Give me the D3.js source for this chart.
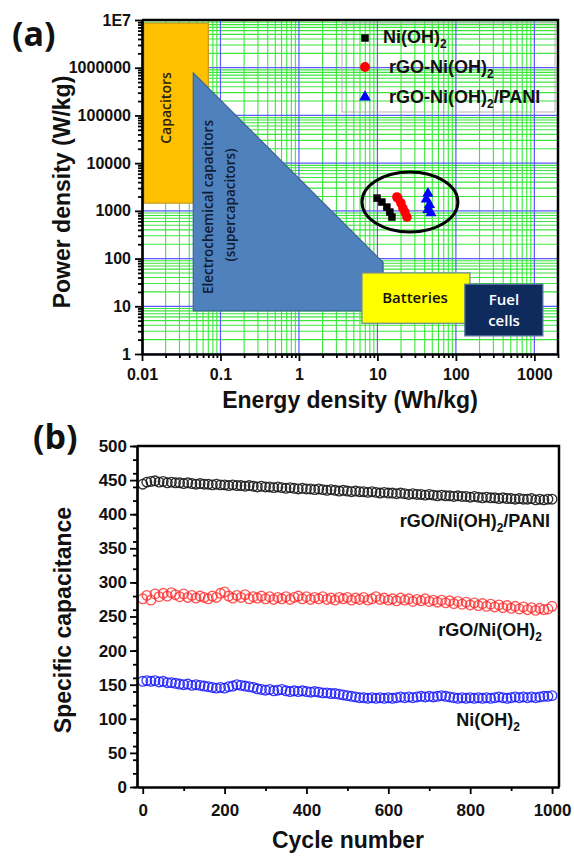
<!DOCTYPE html>
<html><head><meta charset="utf-8">
<script src="https://cdn.jsdelivr.net/npm/d3@7"></script>
<style>
body{margin:0;background:#fff}
text{font-family:"Liberation Sans",Arial,sans-serif}
</style></head><body>
<svg id="chart" width="574" height="856"></svg>
<script>
// ---- panel (a): Ragone plot ----
const xTicksA = [0.01, 0.1, 1, 10, 100, 1000];
const xTickLabelsA = ["0.01", "0.1", "1", "10", "100", "1000"];
const yTicksA = [1, 10, 100, 1000, 1e4, 1e5, 1e6, 1e7];
const yTickLabelsA = ["1", "10", "100", "1000", "10000", "100000", "1000000", "1E7"];

// device regions, [energy min, energy max] x [power min, power max]
const capEnergy = [0.0106, 0.07], capPower = [1450, 8.6e6];
const superPoly = [[0.045, 7.8e5], [10.5, 100], [11.8, 85], [11.8, 8], [0.045, 8]];
const battEnergy = [6.35, 151], battPower = [4.4, 50];
const fuelEnergy = [130, 1283], fuelPower = [2.4, 29];
const ringEnergy = [6.35, 106], ringPower = [360, 6500];

const niEnergy = [9.9, 11.4, 13.2, 14.4, 15.3];
const niPower = [1850, 1530, 1200, 944, 741];
const rgoEnergy = [17.7, 18.2, 19.9, 21.1, 22.4, 23.8];
const rgoPower = [1950, 1850, 1460, 1145, 944, 741];
const paniEnergy = [44, 42, 46, 44, 48];
const paniPower = [2300, 1750, 1350, 1050, 900];

// ---- panel (b): cycling stability ----
const cycles = d3.range(0, 1001, 10);
const capPani = [444,447,448,449,447,448,446,447,446,446,
  445,446,445,444,445,444,444,443,444,443,
  443,442,443,442,442,441,442,441,440,441,
  440,440,439,440,439,438,439,438,437,438,
  437,437,436,437,436,435,436,435,434,435,
  434,433,434,433,433,432,433,432,431,432,
  431,431,430,431,430,429,430,429,429,428,
  429,428,427,428,427,427,426,427,426,426,
  425,426,425,424,425,424,424,423,424,423,
  423,422,423,422,422,423,421,422,421,422,422];
const capRgo = [276,281,274,283,279,284,280,285,282,279,
  283,278,281,277,280,278,276,280,278,284,
  286,280,277,281,278,282,276,279,277,280,
  276,279,275,278,276,279,275,278,280,276,
  279,275,278,276,279,275,277,274,278,276,
  278,274,277,275,278,274,276,279,275,277,
  274,276,273,277,274,276,272,275,273,276,
  272,274,271,274,270,273,269,272,268,271,
  267,270,266,269,265,268,264,267,263,266,
  262,265,261,264,260,263,259,262,260,261,265];
const capNi = [155,156,155,156,154,155,153,153,152,151,
  150,151,149,150,149,148,147,146,145,146,
  145,147,148,150,149,148,147,146,144,143,
  142,143,141,142,143,141,140,141,140,141,
  140,139,140,139,138,138,137,137,136,135,
  134,133,132,131,131,130,131,130,131,130,
  131,130,131,132,131,132,131,132,133,132,
  133,132,133,134,133,132,131,130,131,130,
  131,130,131,130,131,130,131,132,131,130,
  131,132,131,132,131,132,131,132,133,133,134];
const yTicksB = [0, 50, 100, 150, 200, 250, 300, 350, 400, 450, 500];
const xTicksB = [0, 200, 400, 600, 800, 1000];

const svg = d3.select('#chart');

function chem(sel, parts, sub) {
    // parts: alternate normal / subscript pieces
    parts.forEach((p, i) => {
        const t = sel.append('tspan').text(p);
        if (i % 2 === 1) t.attr('dy', sub[1]).attr('font-size', sub[0]);
        else if (i > 0) t.attr('dy', -sub[1]);
    });
}

// ===== panel (a) =====
const xA = d3.scaleLog().domain([0.01, 2000]).range([142, 558]);
const yA = d3.scaleLog().domain([1, 1e7]).range([354, 20]);

svg.append('clipPath').attr('id', 'clipA').append('rect')
    .attr('x', 142).attr('y', 20).attr('width', 416).attr('height', 334);
const gridA = svg.append('g').attr('clip-path', 'url(#clipA)');
const minorX = xA.ticks().filter(d => !xTicksA.includes(d));
const minorY = yA.ticks().filter(d => !yTicksA.includes(d));

gridA.selectAll('.gx').data(minorX).join('line')
    .attr('x1', d => xA(d)).attr('x2', d => xA(d)).attr('y1', 20).attr('y2', 354)
    .attr('stroke', '#3be63b').attr('stroke-width', 1.1);
gridA.selectAll('.gy').data(minorY).join('line')
    .attr('y1', d => yA(d)).attr('y2', d => yA(d)).attr('x1', 142).attr('x2', 558)
    .attr('stroke', '#3be63b').attr('stroke-width', 1.1);
gridA.selectAll('.Gx').data(xTicksA).join('line')
    .attr('x1', d => xA(d)).attr('x2', d => xA(d)).attr('y1', 20).attr('y2', 354)
    .attr('stroke', '#5a5aff').attr('stroke-width', 1.2);
gridA.selectAll('.Gy').data(yTicksA).join('line')
    .attr('y1', d => yA(d)).attr('y2', d => yA(d)).attr('x1', 142).attr('x2', 558)
    .attr('stroke', '#5a5aff').attr('stroke-width', 1.2);

function box(e, p, fill, stroke) {
    svg.append('rect')
        .attr('x', xA(e[0])).attr('y', yA(p[1]))
        .attr('width', xA(e[1]) - xA(e[0])).attr('height', yA(p[0]) - yA(p[1]))
        .attr('fill', fill).attr('stroke', stroke).attr('stroke-width', 1.2);
}
box(capEnergy, capPower, '#ffc000', '#c89a20');
svg.append('polygon')
    .attr('points', superPoly.map(d => xA(d[0]) + ',' + yA(d[1])).join(' '))
    .attr('fill', '#4f81bd').attr('stroke', '#3a6594').attr('stroke-width', 1.2);
box(battEnergy, battPower, '#ffff00', '#6f8299');
box(fuelEnergy, fuelPower, '#0f2a5c', '#5472a0');

const boxText = (x, y, rot, txt, fill, size) => svg.append('text')
    .attr('transform', `translate(${x},${y}) rotate(${rot})`)
    .attr('text-anchor', 'middle').style('font-family', '"Open Sans"')
    .attr('font-size', size).attr('font-weight', 600).attr('fill', fill).text(txt);
boxText(171, 108, -90, 'Capacitors', '#2a2010', 14);
boxText(213, 207, -90, 'Electrochemical capacitors', '#101c33', 13.5);
boxText(235, 205, -90, '(supercapacitors)', '#101c33', 13.5);
boxText(415, 303, 0, 'Batteries', '#111', 15);
boxText(504, 305, 0, 'Fuel', '#fff', 15);
boxText(504, 326, 0, 'cells', '#fff', 15);

// ring around this work
svg.append('ellipse')
    .attr('cx', (xA(ringEnergy[0]) + xA(ringEnergy[1])) / 2)
    .attr('cy', (yA(ringPower[0]) + yA(ringPower[1])) / 2)
    .attr('rx', (xA(ringEnergy[1]) - xA(ringEnergy[0])) / 2)
    .attr('ry', (yA(ringPower[0]) - yA(ringPower[1])) / 2)
    .attr('fill', 'none').attr('stroke', '#000').attr('stroke-width', 3);

const sq = d3.symbol(d3.symbolSquare, 56), tri = d3.symbol(d3.symbolTriangle, 55);
svg.selectAll('.ni').data(niEnergy).join('path')
    .attr('d', sq).attr('fill', '#000')
    .attr('transform', (d, i) => `translate(${xA(d)},${yA(niPower[i])})`);
svg.selectAll('.rgo').data(rgoEnergy).join('circle')
    .attr('r', 4.8).attr('fill', '#ff0000')
    .attr('cx', d => xA(d)).attr('cy', (d, i) => yA(rgoPower[i]));
svg.selectAll('.pani').data(paniEnergy).join('path')
    .attr('d', tri).attr('fill', '#0000ff')
    .attr('transform', (d, i) => `translate(${xA(d)},${yA(paniPower[i])})`);

// legend
svg.append('rect').attr('x', 342).attr('y', 23).attr('width', 213).attr('height', 89)
    .attr('fill', 'none').attr('stroke', '#b8b0b8').attr('stroke-width', 1);
svg.append('path').attr('d', sq).attr('fill', '#000').attr('transform', 'translate(365,38)');
svg.append('circle').attr('cx', 365).attr('cy', 67).attr('r', 5).attr('fill', '#ff0000');
svg.append('path').attr('d', d3.symbol(d3.symbolTriangle, 60)).attr('fill', '#0000ff')
    .attr('transform', 'translate(365,97)');
const legA = [[383, 43, ['Ni(OH)', '2']], [389, 73, ['rGO-Ni(OH)', '2']], [389, 103, ['rGO-Ni(OH)', '2', '/PANI']]];
legA.forEach(l => {
    const t = svg.append('text').attr('x', l[0]).attr('y', l[1])
        .attr('font-size', 18).attr('font-weight', 'bold').attr('fill', '#111');
    chem(t, l[2], [12, 5]);
});

// axes (a)
const axLA = svg.append('g').attr('transform', 'translate(142,0)')
    .call(d3.axisLeft(yA).tickValues(yTicksA).tickFormat((d, i) => yTickLabelsA[i]).tickSize(7).tickSizeOuter(0));
svg.append('g').attr('transform', 'translate(142,0)')
    .call(d3.axisLeft(yA).tickValues(minorY).tickFormat('').tickSize(4).tickSizeOuter(0));
const axBA = svg.append('g').attr('transform', 'translate(0,354)')
    .call(d3.axisBottom(xA).tickValues(xTicksA).tickFormat((d, i) => xTickLabelsA[i]).tickSize(7).tickSizeOuter(0));
svg.append('g').attr('transform', 'translate(0,354)')
    .call(d3.axisBottom(xA).tickValues(minorX).tickFormat('').tickSize(4).tickSizeOuter(0));
svg.append('path').attr('d', 'M142,20H558V354').attr('fill', 'none')
    .attr('stroke', '#000').attr('stroke-width', 2.5);

// ===== panel (b) =====
const xB = d3.scaleLinear().domain([-14, 1017]).range([137, 559]);
const yB = d3.scaleLinear().domain([0, 500]).range([787, 446]);

const series = [[capNi, '#1818ff', 0.85], [capRgo, '#ff2a2a', 0.8], [capPani, '#1a1a1a', 0.9]];
series.forEach(s => {
    svg.append('g').selectAll('circle').data(s[0]).join('circle')
        .attr('cx', (d, i) => xB(cycles[i])).attr('cy', d => yB(d))
        .attr('r', 4.8).attr('fill', 'none').attr('stroke', s[1])
        .attr('stroke-width', 1.35).attr('stroke-opacity', s[2]);
});

const axLB = svg.append('g').attr('transform', 'translate(137,0)')
    .call(d3.axisLeft(yB).tickValues(yTicksB).tickFormat(d3.format('d')).tickSize(7).tickSizeOuter(0));
svg.append('g').attr('transform', 'translate(137,0)')
    .call(d3.axisLeft(yB).ticks(20).tickFormat('').tickSize(4).tickSizeOuter(0));
const axBB = svg.append('g').attr('transform', 'translate(0,787)')
    .call(d3.axisBottom(xB).tickValues(xTicksB).tickFormat(d3.format('d')).tickSize(7).tickSizeOuter(0));
svg.append('g').attr('transform', 'translate(0,787)')
    .call(d3.axisBottom(xB).tickValues(d3.range(100, 1000, 200)).tickFormat('').tickSize(4).tickSizeOuter(0));
svg.append('path').attr('d', 'M137,446H559V787').attr('fill', 'none')
    .attr('stroke', '#000').attr('stroke-width', 2.5);

const labB = [[550, 527, ['rGO/Ni(OH)', '2', '/PANI']], [542, 636, ['rGO/Ni(OH)', '2']], [520, 726, ['Ni(OH)', '2']]];
labB.forEach(l => {
    const t = svg.append('text').attr('x', l[0]).attr('y', l[1]).attr('text-anchor', 'end')
        .attr('font-size', 18).attr('font-weight', 'bold').attr('fill', '#111');
    chem(t, l[2], [12, 5]);
});

// axis styling
svg.selectAll('.domain').attr('stroke-width', 2.2);
svg.selectAll('.tick line').attr('stroke-width', 1.8);
svg.selectAll('.tick text').attr('font-weight', 'bold').attr('fill', '#111')
    .style('font-family', '"Liberation Sans", Arial, sans-serif');
axLA.selectAll('.tick text').attr('font-size', 16).attr('dx', '-1');
axBA.selectAll('.tick text').attr('font-size', 16).attr('dy', '1.0em');
axLB.selectAll('.tick text').attr('font-size', 17);
axBB.selectAll('.tick text').attr('font-size', 17).attr('dy', '1.1em');

// titles
const titles = [
    ['(a)', 12, 46, 0, 34],
    ['(b)', 33, 449, 0, 34],
    ['Energy density (Wh/kg)', 350, 408, 0, 23],
    ['Power density (W/kg)', 70, 192, -90, 23],
    ['Cycle number', 348, 848, 0, 23],
    ['Specific capacitance', 71, 620, -90, 23]
];
titles.forEach(t => {
    const panel = t[0].length === 3;
    svg.append('text').attr('transform', `translate(${t[1]},${t[2]}) rotate(${t[3]})`)
        .attr('text-anchor', panel ? 'start' : 'middle')
        .attr('font-size', t[4]).attr('font-weight', 'bold').attr('fill', '#111')
        .style('font-family', panel ? '"Open Sans"' : '"Liberation Sans", Arial, sans-serif')
        .text(t[0]);
});
</script>
</body></html>
